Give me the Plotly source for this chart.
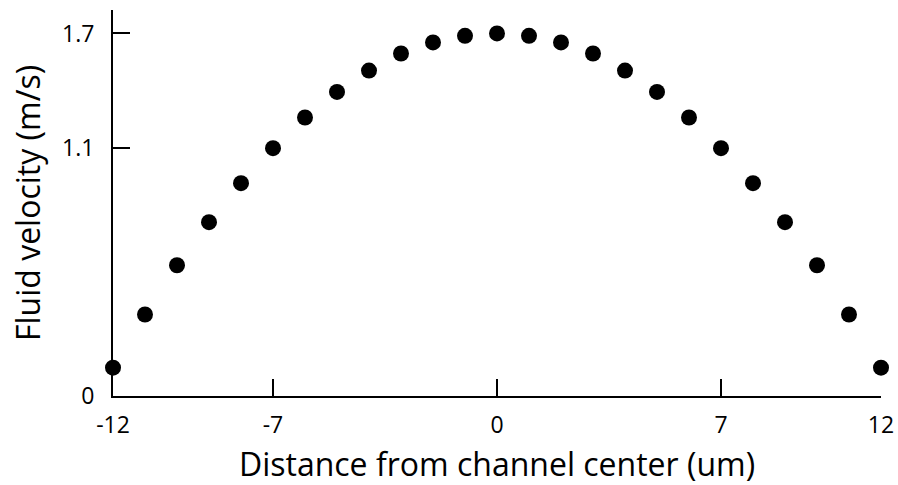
import plotly.graph_objects as go

# Distance from the channel center (um) and measured fluid velocity (m/s)
distance = [-12, -11, -10, -9, -8, -7, -6, -5, -4, -3, -2, -1, 0,
            1, 2, 3, 4, 5, 6, 7, 8, 9, 10, 11, 12]
velocity = [0.133, 0.382, 0.613, 0.815, 0.998, 1.162, 1.306, 1.426, 1.526, 1.606, 1.658, 1.689, 1.70,
            1.689, 1.658, 1.606, 1.526, 1.426, 1.306, 1.162, 0.998, 0.815, 0.613, 0.382, 0.133]

x_tick_values = [-12, -7, 0, 7, 12]
x_tick_text = ["-12", "-7", "0", "7", "12"]

# y ticks sit at the origin, at the velocity at x = 7 and at the peak velocity
y_tick_values = [0, velocity[distance.index(7)], velocity[distance.index(0)]]
y_tick_text = ["0", "1.1", "1.7"]

FONT = "Open Sans"

fig = go.Figure(
    go.Scatter(
        x=distance,
        y=velocity,
        mode="markers",
        marker=dict(color="black", size=16, line=dict(width=0)),
        cliponaxis=False,
        showlegend=False,
    )
)

axis_common = dict(
    showgrid=False,
    zeroline=False,
    showline=True,
    linecolor="black",
    linewidth=2,
    ticks="inside",
    ticklen=17,
    tickwidth=2,
    tickcolor="black",
    tickfont=dict(family=FONT, size=23, color="black"),
)

fig.update_xaxes(
    range=[-12, 12],
    tickmode="array",
    tickvals=x_tick_values,
    ticktext=x_tick_text,
    ticklabelstandoff=7,
    automargin=False,
    title=dict(text="Distance from channel center (um)",
               font=dict(family=FONT, size=32, color="black"), standoff=19),
    **axis_common,
)
fig.update_yaxes(
    range=[0, 1.81],
    tickmode="array",
    tickvals=y_tick_values,
    ticktext=y_tick_text,
    ticklabelstandoff=12,
    automargin=True,
    title=dict(text="Fluid velocity (m/s)",
               font=dict(family=FONT, size=32, color="black"), standoff=12),
    **axis_common,
)

fig.update_layout(
    width=898,
    height=485,
    margin=dict(l=113, r=17, t=10, b=89),
    plot_bgcolor="white",
    paper_bgcolor="white",
    font=dict(family=FONT, color="black"),
)

fig.write_html("out.html")
